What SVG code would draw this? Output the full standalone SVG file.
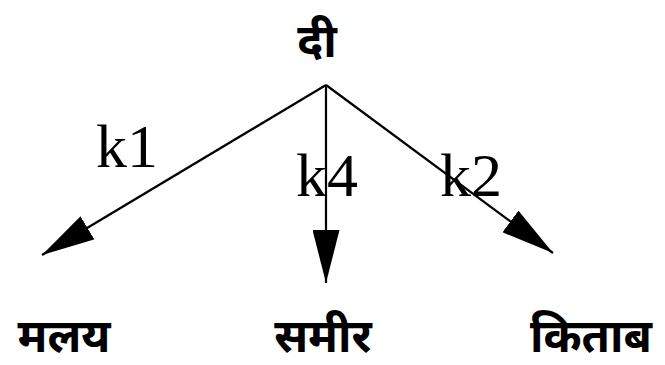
<svg xmlns="http://www.w3.org/2000/svg" width="665" height="365" viewBox="0 0 665 365">
<style>
.dev{font-family:"Noto Sans","Noto Sans Devanagari","Liberation Sans",sans-serif;font-size:46px;font-weight:bold;fill:#000;text-anchor:middle}
.lbl{font-family:"Liberation Serif","Times New Roman",serif;font-size:62px;fill:#000}
.edge{stroke:#000;stroke-width:2.2;fill:none}
</style>
<defs>
<marker id="ah" markerUnits="userSpaceOnUse" viewBox="0 0 53 27" markerWidth="53" markerHeight="27" refX="53" refY="13.5" orient="auto">
<path d="M0,0 L53,13.5 L0,27 z" fill="#000"/>
</marker>
</defs>
<rect width="665" height="365" fill="#fff"/>
<g id="connectors">
<line class="edge" x1="326" y1="85" x2="42" y2="255" marker-end="url(#ah)"/>
<line class="edge" x1="326" y1="85" x2="326" y2="283" marker-end="url(#ah)"/>
<line class="edge" x1="326" y1="85" x2="553" y2="253" marker-end="url(#ah)"/>
<text class="lbl" x="96" y="167">k1</text>
<text class="lbl" x="296" y="196">k4</text>
<text class="lbl" x="440" y="196">k2</text>
</g>
<g id="node-root"><text class="dev" x="317" y="57">दी</text></g>
<g id="node-malay"><text class="dev" x="64" y="352">मलय</text></g>
<g id="node-sameer"><text class="dev" x="323" y="352">समीर</text></g>
<g id="node-kitab"><text class="dev" x="591" y="352">किताब</text></g>
</svg>
